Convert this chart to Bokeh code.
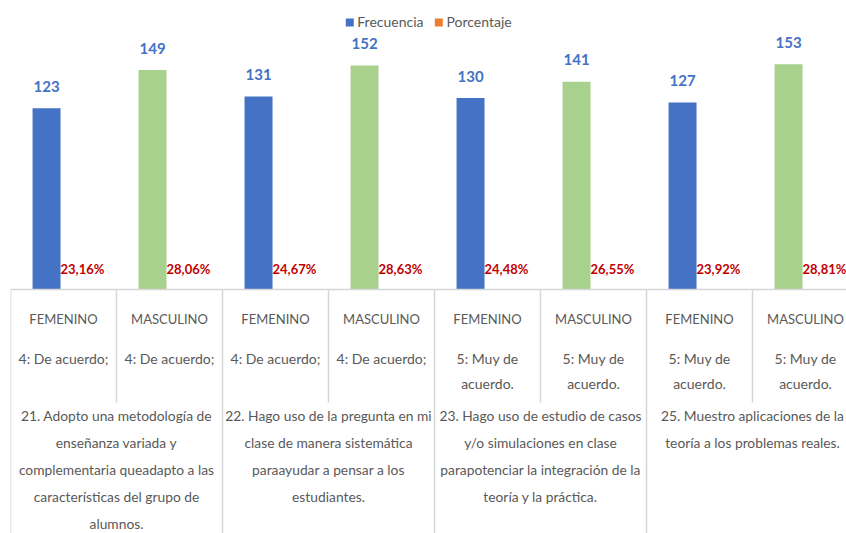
from bokeh.plotting import figure
from bokeh.models import Range1d, ColumnDataSource, Legend, LegendItem, Span
from bokeh.core.properties import value
from bokeh.embed import file_html
from bokeh.resources import INLINE

# ---------------- data ----------------
generos = ["FEMENINO", "MASCULINO", "FEMENINO", "MASCULINO",
           "FEMENINO", "MASCULINO", "FEMENINO", "MASCULINO"]
respuestas = ["4: De acuerdo;", "4: De acuerdo;", "4: De acuerdo;", "4: De acuerdo;",
              "5: Muy de\nacuerdo.", "5: Muy de\nacuerdo.", "5: Muy de\nacuerdo.", "5: Muy de\nacuerdo."]
preguntas = [
    "21. Adopto una metodología de\nenseñanza variada y\ncomplementaria queadapto a las\ncaracterísticas del grupo de\nalumnos.",
    "22. Hago uso de la pregunta en mi\nclase de manera sistemática\nparaayudar a pensar a los\nestudiantes.",
    "23. Hago uso de estudio de casos\ny/o simulaciones en clase\nparapotenciar la integración de la\nteoría y la práctica.",
    "25. Muestro aplicaciones de la\nteoría a los problemas reales.",
]
frecuencia = [123, 149, 131, 152, 130, 141, 127, 153]
porcentaje = [23.16, 28.06, 24.67, 28.63, 24.48, 26.55, 23.92, 28.81]

# ---------------- style ----------------
FONT_NAME = "Lato"
FONT = value(FONT_NAME)
BLUE, GREEN, ORANGE = "#4472C4", "#A9D18E", "#ED7D31"
RED = "#C00000"
GREY_TXT, GREY_LINE = "#595959", "#D6D6D6"

W, H = 846, 533
LEFT = 10
CAT_PX = 106.0          # pixel width of one category
PXU = 1.473             # pixels per value unit
BASE = 289              # baseline from top of frame (px)

def u(px):
    return px / PXU

n = len(frecuencia)
p = figure(width=W, height=H, output_backend="svg", toolbar_location=None,
           x_axis_location=None, y_axis_location=None,
           x_range=Range1d(0, (W - LEFT) / CAT_PX),
           y_range=Range1d(-u(H - BASE), u(BASE)),
           min_border_left=LEFT, min_border_right=0, min_border_top=0, min_border_bottom=0)
p.grid.visible = False
p.outline_line_color = None
p.background_fill_color = "white"

bw = 0.264
off_f = 0.34
idx = list(range(n))
colors = [BLUE if g == "FEMENINO" else GREEN for g in generos]
src = ColumnDataSource(dict(
    x=[i + off_f for i in idx],
    xp=[i + off_f + bw for i in idx],
    xl=[i + off_f + bw / 2 for i in idx],
    xc=[i + 0.5 for i in idx],
    f=frecuencia,
    pf=[v / 100 for v in porcentaje],
    c=colors,
    ft=[str(v) for v in frecuencia],
    pt=[("%.2f" % v).replace(".", ",") + "%" for v in porcentaje],
    g=generos,
))

r_f = p.vbar(x="x", top="f", width=bw, bottom=0, fill_color="c", line_color=None, source=src)
r_p = p.vbar(x="xp", top="pf", width=bw, bottom=0, fill_color=ORANGE, line_color=None, source=src)

# value labels
p.text(x="x", y="f", text="ft", source=src, text_font=FONT, text_font_style="bold",
       text_font_size="15px", text_color=BLUE, text_align="center",
       text_baseline="middle", y_offset=-22)
p.text(x="xl", y=0, text="pt", source=src, text_font=FONT, text_font_style="bold",
       text_font_size="13px", text_color=RED, text_align="left",
       text_baseline="middle", y_offset=-21)

# baseline
p.add_layout(Span(location=0, dimension="width", line_color=GREY_LINE, line_width=1.5))

# separators
bx, by1 = [], []
for b in range(n + 1):
    bx.append(b)
    by1.append(-u(113) if b % 2 else -u(H - BASE + 5))
p.segment(x0=bx, y0=[0] * len(bx), x1=bx, y1=by1, line_color=GREY_LINE, line_width=1.5)

# level 1: gender
p.text(x="xc", y=0, text="g", source=src, text_font=FONT, text_font_size="13px",
       text_color=GREY_TXT, text_align="center", text_baseline="middle", y_offset=29)

# level 2: response (multi-line)
lx, lt, lo = [], [], []
for i, r in enumerate(respuestas):
    for k, line in enumerate(r.split("\n")):
        lx.append(i + 0.5); lt.append(line); lo.append(69 + 25 * k)
p.text(x=lx, y=[0] * len(lx), text=lt, y_offset=lo, text_font=FONT, text_font_size="14px",
       text_color=GREY_TXT, text_align="center", text_baseline="middle")

# level 3: question
qx, qt, qo = [], [], []
for j, q in enumerate(preguntas):
    for k, line in enumerate(q.split("\n")):
        qx.append(2 * j + 1); qt.append(line); qo.append(126 + 27 * k)
p.text(x=qx, y=[0] * len(qx), text=qt, y_offset=qo, text_font=FONT, text_font_size="13.8px",
       text_color=GREY_TXT, text_align="center", text_baseline="middle")

legend = Legend(items=[LegendItem(label="Frecuencia", renderers=[r_f], index=0),
                       LegendItem(label="Porcentaje", renderers=[r_p], index=0)],
                orientation="horizontal", location="top_center",
                glyph_width=10, glyph_height=10, label_standoff=3, spacing=10,
                padding=0, margin=13, border_line_color=None, background_fill_alpha=0,
                label_text_font=FONT_NAME, label_text_font_size="14px", label_text_color=GREY_TXT)
p.add_layout(legend)

open("out.html", "w").write(file_html(p, INLINE))
